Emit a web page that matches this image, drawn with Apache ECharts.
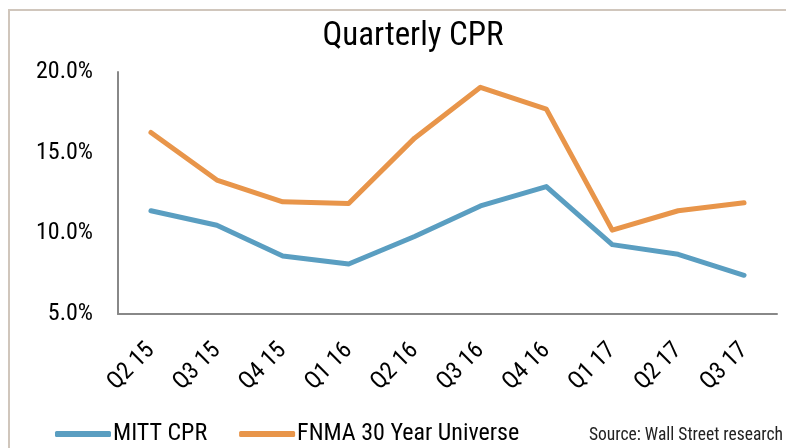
<!DOCTYPE html>
<html style="height: 100%">
<head>
<meta charset="UTF-8">
<title>Quarterly CPR</title>
<script src="https://cdn.jsdelivr.net/npm/echarts@6/dist/echarts.min.js"></script>
</head>
<body style="height: 100%;margin: 0;background:#fff">
<div id="container" style="width:786px;height:448px"></div>
<script type="text/javascript">
var quarters = ['Q2 15', 'Q3 15', 'Q4 15', 'Q1 16', 'Q2 16', 'Q3 16', 'Q4 16', 'Q1 17', 'Q2 17', 'Q3 17'];
// CPR in percent
var mittCpr = [11.4, 10.5, 8.6, 8.1, 9.8, 11.7, 12.9, 9.3, 8.7, 7.4];
var fnmaCpr = [16.25, 13.3, 11.95, 11.85, 15.9, 19.05, 17.7, 10.2, 11.4, 11.9];
var seriesNames = ['MITT CPR', 'FNMA 30 Year Universe'];

var narrow = "'Liberation Sans Narrow', 'Arial Narrow', 'Roboto Condensed', sans-serif";
var blue = '#5a9ec1';
var orange = '#e8954a';

var myChart = echarts.init(document.getElementById('container'));

var option = {
    animation: false,
    title: {
        text: 'Quarterly CPR',
        left: 408,
        textAlign: 'center',
        top: 15,
        textStyle: {fontFamily: narrow, fontSize: 33, fontWeight: 'normal', color: '#000'}
    },
    graphic: [{
        type: 'rect',
        shape: {x: 9, y: 10, width: 800, height: 500},
        style: {fill: 'none', stroke: '#d0c6bc', lineWidth: 2}
    }, {
        type: 'text',
        right: 3,
        top: 427,
        style: {text: 'Source: Wall Street research', font: '17.5px ' + narrow, fill: '#222'}
    }],
    legend: {
        data: seriesNames,
        left: 50,
        top: 417,
        icon: 'roundRect',
        itemWidth: 56,
        itemHeight: 6,
        itemGap: 32,
        textStyle: {fontFamily: narrow, fontSize: 24, color: '#000', padding: [0, 0, 0, -3]}
    },
    grid: {left: 118, right: 9, top: 72, bottom: 134},
    xAxis: {
        type: 'category',
        data: quarters,
        boundaryGap: true,
        axisLine: {lineStyle: {color: '#888', width: 2}},
        axisTick: {show: false},
        axisLabel: {
            interval: 0,
            rotate: 45,
            margin: 33,
            fontFamily: narrow,
            fontSize: 24,
            color: '#000'
        }
    },
    yAxis: {
        type: 'value',
        min: 5,
        max: 20,
        interval: 5,
        splitLine: {show: false},
        axisLine: {show: true, lineStyle: {color: '#888', width: 2}},
        axisTick: {show: false},
        axisLabel: {
            margin: 25,
            fontFamily: narrow,
            fontSize: 24,
            color: '#000',
            formatter: function (v) { return v.toFixed(1) + '%'; }
        }
    },
    series: [{
        name: seriesNames[0],
        type: 'line',
        data: mittCpr,
        symbol: 'none',
        color: blue,
        lineStyle: {width: 5, color: blue, cap: 'round', join: 'round'}
    }, {
        name: seriesNames[1],
        type: 'line',
        data: fnmaCpr,
        symbol: 'none',
        color: orange,
        lineStyle: {width: 5, color: orange, cap: 'round', join: 'round'}
    }]
};
myChart.setOption(option);
</script>
</body>
</html>
